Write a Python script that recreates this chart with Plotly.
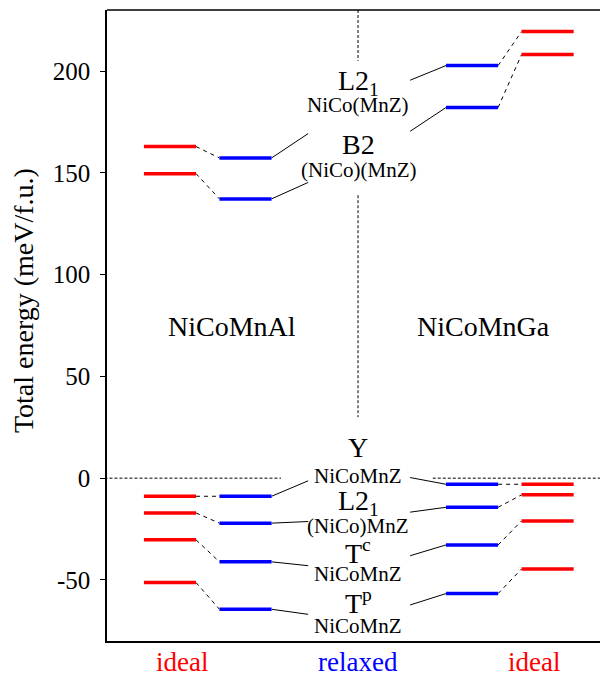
import plotly.graph_objects as go

# ---- data (meV/f.u.) ----
structures = ["L2_1 NiCo(MnZ)", "B2 (NiCo)(MnZ)", "Y NiCoMnZ", "L2_1 (NiCo)MnZ", "Tc NiCoMnZ", "Tp NiCoMnZ"]
al_ideal = [162.9, 149.6, -8.9, -17.1, -30.3, -51.3]
al_relaxed = [157.3, 137.2, -8.9, -22.1, -41.1, -64.4]
ga_relaxed = [202.7, 182.1, -3.0, -14.3, -32.8, -56.7]
ga_ideal = [219.4, 208.1, -3.0, -8.2, -21.0, -44.6]

# leader-line end points next to the central labels (y in data units)
al_leader_y = [169.3, 145.3, -1.3, -21.3, -43.0, -66.9]
ga_leader_y = [195.5, 170.4, 0.3, -16.7, -38.1, -62.3]

y_tickvals = [-50, 0, 50, 100, 150, 200]
y_ticktext = ["-50", "0", "50", "100", "150", "200"]
x_labels = ["ideal", "relaxed", "ideal"]
x_label_colors = ["red", "blue", "red"]

# ---- layout constants ----
col = {"al_ideal": 1.0, "al_relaxed": 2.0, "ga_relaxed": 5.0, "ga_ideal": 6.0}
hw = 0.345
mid = 3.49
al_lead_x = 2.83
ga_lead_x = 4.18
FONT = "Liberation Serif, Times New Roman, serif"

fig = go.Figure()


def bars(values, c, color):
    xs, ys = [], []
    for v in values:
        xs += [c - hw, c + hw, None]
        ys += [v, v, None]
    fig.add_trace(go.Scatter(x=xs, y=ys, mode="lines", line=dict(color=color, width=3.5),
                             hoverinfo="skip", showlegend=False))


def connectors(a_vals, a_x, b_vals, b_x):
    xs, ys = [], []
    for a, b in zip(a_vals, b_vals):
        xs += [a_x, b_x, None]
        ys += [a, b, None]
    fig.add_trace(go.Scatter(x=xs, y=ys, mode="lines", line=dict(color="black", width=1, dash="4px,4px"),
                             hoverinfo="skip", showlegend=False))


def leaders(vals, bx, ly, lx):
    xs, ys = [], []
    for v, l in zip(vals, ly):
        xs += [bx, lx, None]
        ys += [v, l, None]
    fig.add_trace(go.Scatter(x=xs, y=ys, mode="lines", line=dict(color="black", width=1),
                             hoverinfo="skip", showlegend=False))


connectors(al_ideal, col["al_ideal"] + hw, al_relaxed, col["al_relaxed"] - hw)
connectors(ga_relaxed, col["ga_relaxed"] + hw, ga_ideal, col["ga_ideal"] - hw)
leaders(al_relaxed, col["al_relaxed"] + hw, al_leader_y, al_lead_x)
leaders(ga_relaxed, col["ga_relaxed"] - hw, ga_leader_y, ga_lead_x)

bars(al_ideal, col["al_ideal"], "red")
bars(al_relaxed, col["al_relaxed"], "blue")
bars(ga_relaxed, col["ga_relaxed"], "blue")
bars(ga_ideal, col["ga_ideal"], "red")

# dashed reference lines
shapes = [
    dict(type="line", xref="x", yref="y", x0=0.0, x1=2.47, y0=0, y1=0,
         line=dict(color="black", width=1, dash="3px,2px")),
    dict(type="line", xref="x", yref="y", x0=4.48, x1=7.0, y0=0, y1=0,
         line=dict(color="black", width=1, dash="3px,2px")),
    dict(type="line", xref="x", yref="y", x0=mid, x1=mid, y0=230, y1=205,
         line=dict(color="black", width=1, dash="3px,2px")),
    dict(type="line", xref="x", yref="y", x0=mid, x1=mid, y0=139, y1=30,
         line=dict(color="black", width=1, dash="3px,2px")),
    dict(type="line", xref="paper", yref="paper", x0=0, x1=1, y0=1, y1=1,
         line=dict(color="black", width=1.5)),
]

big = 28
small = 21
labels = [
    ("L2<sub>1</sub>", 194.3, big), ("NiCo(MnZ)", 183.3, small),
    ("B2", 163.9, big), ("(NiCo)(MnZ)", 151.6, small),
    ("Y", 14.9, big), ("NiCoMnZ", 1.1, small),
    ("L2<sub>1</sub>", -12.2, big), ("(NiCo)MnZ", -23.4, small),
    ("T<sup>c</sup>", -36.2, big), ("NiCoMnZ", -47.0, small),
    ("T<sup>p</sup>", -60.8, big), ("NiCoMnZ", -72.6, small),
]
annotations = []
for t, yv, fs in labels:
    annotations.append(dict(x=mid, y=yv, xref="x", yref="y", text=t, showarrow=False,
                            font=dict(family=FONT, size=fs, color="black"),
                            xanchor="center", yanchor="middle"))

annotations.append(dict(x=1.82, y=74.4, xref="x", yref="y", text="NiCoMnAl", showarrow=False,
                        font=dict(family=FONT, size=28, color="black")))
annotations.append(dict(x=5.15, y=74.4, xref="x", yref="y", text="NiCoMnGa", showarrow=False,
                        font=dict(family=FONT, size=28, color="black")))

for xv, t, c in zip([1.16, 3.49, 5.82], x_labels, x_label_colors):
    annotations.append(dict(x=xv, y=0, xref="x", yref="paper", text=t, showarrow=False,
                            yanchor="top", yshift=-5, borderpad=0,
                            font=dict(family=FONT, size=27, color=c)))

annotations.append(dict(x=-0.168, y=0.54, xref="paper", yref="paper", text="Total energy (meV/f.u.)",
                        showarrow=False, textangle=-90, xanchor="center", yanchor="middle",
                        font=dict(family=FONT, size=28, color="black")))

# the page body adds an 8px offset, so the figure is sized to fit the 608x677 window
fig.update_layout(
    width=600, height=669,
    margin=dict(l=99, r=0, t=2, b=36),
    plot_bgcolor="white", paper_bgcolor="white",
    shapes=shapes, annotations=annotations,
    xaxis=dict(range=[0.166, 6.80], showgrid=False, zeroline=False, showticklabels=False,
               ticks="", showline=True, linecolor="black", linewidth=1.5),
    yaxis=dict(range=[-80, 230], showgrid=False, zeroline=False,
               tickvals=y_tickvals, ticktext=y_ticktext,
               ticks="outside", ticklen=5, tickcolor="black", ticklabelstandoff=5,
               tickfont=dict(family=FONT, size=25, color="black"),
               showline=True, linecolor="black", linewidth=1.5),
)

fig.write_html("out.html")
